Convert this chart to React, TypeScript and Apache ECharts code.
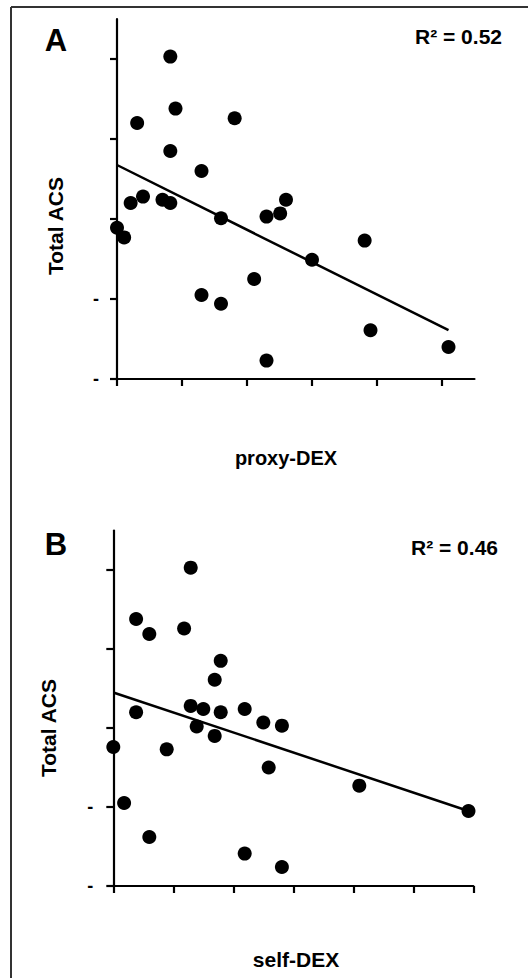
import React, { useEffect, useRef } from "react";
import * as echarts from "echarts";

// Panel A: proxy-DEX vs Total ACS (axis units; tick labels hidden in the original)
const proxyDexX = [0.0, 0.11, 0.21, 0.31, 0.40, 0.70, 0.82, 0.82, 0.82, 0.90, 1.30, 1.30, 1.60, 1.60, 1.81, 2.11, 2.30, 2.30, 2.51, 2.60, 3.00, 3.81, 3.90, 5.10];
const proxyAcsY = [1.89, 1.77, 2.20, 3.20, 2.28, 2.24, 2.20, 2.85, 4.03, 3.38, 2.60, 1.05, 2.01, 0.94, 3.26, 1.25, 2.03, 0.23, 2.07, 2.24, 1.49, 1.73, 0.61, 0.40];
const proxyFitX = [0, 5.1];
const proxyFitY = [2.675, 0.61];

// Panel B: self-DEX vs Total ACS
const selfDexX = [0.0, 0.18, 0.38, 0.38, 0.60, 0.60, 0.89, 1.18, 1.29, 1.29, 1.39, 1.50, 1.69, 1.69, 1.79, 1.79, 2.19, 2.19, 2.50, 2.59, 2.81, 2.81, 4.10, 5.92];
const selfAcsY = [1.76, 1.05, 3.38, 2.20, 3.19, 0.62, 1.73, 3.26, 4.03, 2.28, 2.02, 2.24, 2.61, 1.90, 2.85, 2.20, 2.24, 0.41, 2.07, 1.50, 2.03, 0.24, 1.27, 0.95];
const selfFitX = [0, 5.92];
const selfFitY = [2.45, 0.95];

const xTicksA = [0, 1, 2, 3, 4, 5];
const xTicksB = [0, 1, 2, 3, 4, 5, 6];
const yTicks = [0, 1, 2, 3, 4];
const yDashTicks = [0, 1];

const rSquaredA = "R² = 0.52";
const rSquaredB = "R² = 0.46";
const yTitle = "Total ACS";
const xTitleA = "proxy-DEX";
const xTitleB = "self-DEX";

const FONT = "'Liberation Sans', Arial, Helvetica, sans-serif";

export default function App() {
  const ref = useRef<HTMLDivElement>(null);
  useEffect(() => {
    document.body.style.margin = "0";
    const chart = echarts.init(ref.current!, null, { renderer: "svg" });
    const axisLineStyle = { show: true, lineStyle: { color: "#000", width: 2.2 } };
    const xAxisCommon = (ticks: number[], max: number, gi: number) => ({
      type: "value",
      gridIndex: gi,
      min: 0,
      max,
      interval: 1,
      splitLine: { show: false },
      axisLine: { ...axisLineStyle, onZero: false },
      axisTick: { show: true, length: 7, lineStyle: { color: "#000", width: 2.2 }, customValues: ticks },
      axisLabel: { show: false },
    });
    const yAxisCommon = (gi: number, margin: number) => ({
      type: "value",
      gridIndex: gi,
      min: 0,
      max: 4.5,
      interval: 1,
      splitLine: { show: false },
      axisLine: { ...axisLineStyle, onZero: false },
      axisTick: { show: true, length: 7, lineStyle: { color: "#000", width: 2.2 }, customValues: yTicks },
      axisLabel: {
        show: true,
        customValues: yDashTicks,
        formatter: () => "-",
        margin,
        color: "#000",
        fontFamily: FONT,
        fontWeight: "bold",
        fontSize: 18,
      },
    });
    const scatterSeries = (xs: number[], ys: number[], i: number) => ({
      type: "scatter",
      xAxisIndex: i,
      yAxisIndex: i,
      symbolSize: 14,
      itemStyle: { color: "#000", opacity: 1 },
      clip: false,
      data: xs.map((x, k) => [x, ys[k]]),
      z: 3,
    });
    const fitSeries = (xs: number[], ys: number[], i: number) => ({
      type: "line",
      xAxisIndex: i,
      yAxisIndex: i,
      showSymbol: false,
      symbol: "none",
      lineStyle: { color: "#000", width: 2.5 },
      data: xs.map((x, k) => [x, ys[k]]),
      z: 2,
    });
    const txt = (text: string, x: number, y: number, size: number, align = "center", rotation = 0) => ({
      type: "text",
      x,
      y,
      rotation,
      style: {
        text,
        fill: "#000",
        font: `bold ${size}px ${FONT}`,
        textAlign: align,
        textVerticalAlign: "middle",
      },
    });
    chart.setOption({
      animation: false,
      backgroundColor: "#fff",
      grid: [
        { left: 117, top: 19, width: 357.5, height: 360 },
        { left: 113.3, top: 530.5, width: 360, height: 355.5 },
      ],
      xAxis: [xAxisCommon(xTicksA, 5.5, 0), xAxisCommon(xTicksB, 6, 1)],
      yAxis: [yAxisCommon(0, 18), yAxisCommon(1, 20)],
      series: [
        fitSeries(proxyFitX, proxyFitY, 0),
        scatterSeries(proxyDexX, proxyAcsY, 0),
        fitSeries(selfFitX, selfFitY, 1),
        scatterSeries(selfDexX, selfAcsY, 1),
      ],
      graphic: [
        { type: "line", shape: { x1: 11, y1: 7, x2: 528, y2: 7 }, style: { stroke: "#333", lineWidth: 2 } },
        { type: "line", shape: { x1: 11, y1: 7, x2: 11, y2: 978 }, style: { stroke: "#333", lineWidth: 2 } },
        txt("A", 56, 40, 31),
        txt("B", 56, 544, 31),
        txt(rSquaredA, 502, 36, 21, "right"),
        txt(rSquaredB, 498, 547, 21, "right"),
        txt(yTitle, 55, 226, 21, "center", Math.PI / 2),
        txt(yTitle, 48, 728, 21, "center", Math.PI / 2),
        txt(xTitleA, 286, 458, 20),
        txt(xTitleB, 296, 959, 21),
      ],
    });
    return () => chart.dispose();
  }, []);
  return <div ref={ref} style={{ width: 528, height: 978 }} />;
}
